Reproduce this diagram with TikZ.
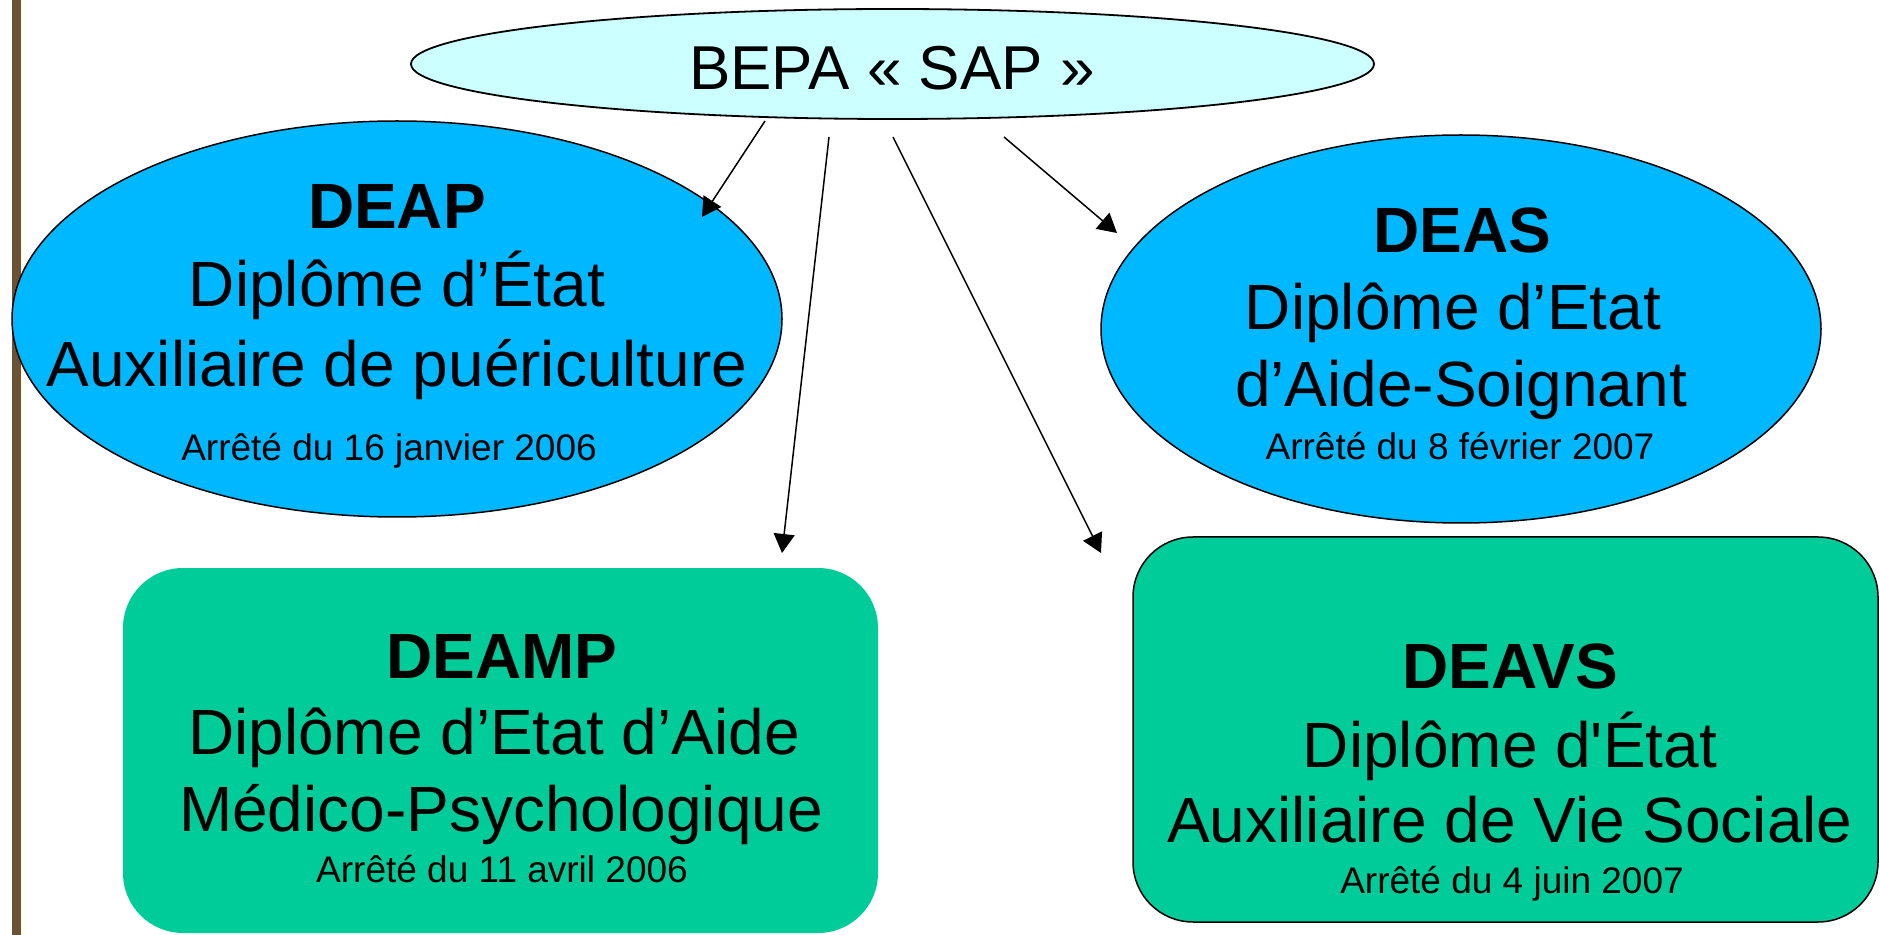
\documentclass[tikz,border=0pt]{standalone}
\usepackage{fontspec}
\newfontfamily\lib{Liberation Sans}
\usetikzlibrary{shapes.geometric,arrows.meta}
\definecolor{skyfill}{RGB}{0,184,255}
\definecolor{greenfill}{RGB}{0,204,153}
\definecolor{cyanfill}{RGB}{204,255,255}
\definecolor{barbrown}{RGB}{107,82,55}
\definecolor{cream}{RGB}{255,253,240}
\begin{document}
\begin{tikzpicture}[x=0.5pt,y=-0.5pt,
 big/.style={anchor=base,inner sep=0,font=\lib\fontsize{32}{38}\selectfont},
 bigb/.style={anchor=base,inner sep=0,font=\lib\bfseries\fontsize{32}{38}\selectfont},
 small/.style={anchor=base,inner sep=0,font=\lib\fontsize{18.5}{22}\selectfont},
 oval/.style={ellipse,draw=black,line width=0.75pt,inner sep=0},
 card/.style={rectangle,rounded corners=30pt,inner sep=0},
 link/.style={line width=0.75pt,-{Triangle[length=9.5pt,width=10.5pt]}}]
\useasboundingbox (0,0) rectangle (1880,935);
\fill[barbrown] (12,0) rectangle (21,935);
\fill[cream] (21,0) rectangle (26,935);

% top
\node[oval,line width=0.9pt,fill=cyanfill,minimum width=481.5pt,minimum height=55pt] (bepa) at (892.5,64) {};
\node[anchor=base,inner sep=0,font=\lib\fontsize{31}{36}\selectfont] (bepat) at (892,90) {BEPA « SAP »};

% DEAP
\node[oval,fill=skyfill,minimum width=385pt,minimum height=198pt] (deap) at (397,319) {};
\node[bigb] (deap1) at (397,229) {DEAP};
\node[big] (deap2) at (397,307) {Diplôme d’État};
\node[big] (deap3) at (397,387) {Auxiliaire de puériculture};
\node[small] (deap4) at (389,461) {Arrêté du 16 janvier 2006};

% DEAS
\node[oval,fill=skyfill,minimum width=360pt,minimum height=194pt] (deas) at (1461,329) {};
\node[bigb] (deas1) at (1462,253) {DEAS};
\node[big] (deas2) at (1453,330) {Diplôme d’Etat};
\node[big] (deas3) at (1461,407) {d’Aide-Soignant};
\node[small] (deas4) at (1460,460) {Arrêté du 8 février 2007};

% DEAMP
\node[card,fill=greenfill,minimum width=377.5pt,minimum height=182.5pt] (deamp) at (500.5,750.5) {};
\node[bigb] (deamp1) at (502,678) {DEAMP};
\node[big] (deamp2) at (494,754) {Diplôme d’Etat d’Aide};
\node[big] (deamp3) at (501,831) {Médico-Psychologique};
\node[small] (deamp4) at (502,882) {Arrêté du 11 avril 2006};

% DEAVS
\node[card,draw=black,line width=0.75pt,fill=greenfill,minimum width=372.5pt,minimum height=192.5pt] (deavs) at (1505.5,729.5) {};
\node[bigb] (deavs1) at (1510,688) {DEAVS};
\node[big] (deavs2) at (1510,767) {Diplôme d'État};
\node[big] (deavs3) at (1510,842) {Auxiliaire de Vie Sociale};
\node[small] (deavs4) at (1512,893) {Arrêté du 4 juin 2007};

% arrows
\coordinate (a1s) at (765,121);
\coordinate (a1e) at (702,217);
\coordinate (a2s) at (829,137);
\coordinate (a2e) at (782,553);
\coordinate (a3s) at (893,137);
\coordinate (a3e) at (1101,553);
\coordinate (a4s) at (1004,137);
\coordinate (a4e) at (1117,233);
\draw[link] (a1s) -- (a1e);
\draw[link] (a2s) -- (a2e);
\draw[link] (a3s) -- (a3e);
\draw[link] (a4s) -- (a4e);
\end{tikzpicture}
\end{document}
